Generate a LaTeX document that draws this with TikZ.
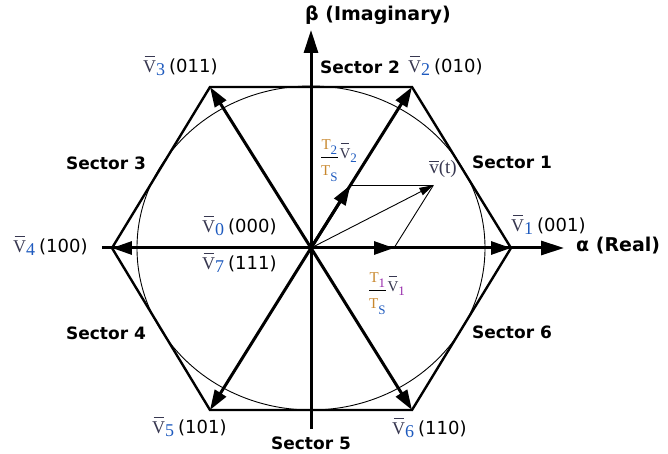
\documentclass[tikz,border=0pt]{standalone}
\usepackage{fontspec}
\setmainfont{DejaVu Sans}
\newfontfamily\serfont{Liberation Serif}
\usepackage{xcolor}
\usetikzlibrary{arrows.meta, calc, positioning}

\definecolor{subblue}{RGB}{30,90,190}
\definecolor{tcol}{RGB}{200,135,45}
\definecolor{subpurple}{RGB}{150,40,170}
\definecolor{vgray}{RGB}{55,55,80}

% letter with a bar above it (#2 = height of the bar)
\newcommand{\barl}[2]{\ooalign{#1\cr\hidewidth\rule[#2]{0.55em}{0.055em}\hidewidth\cr}}
% space vector label: V bar, index, switching state
\newcommand{\vlab}[2]{{\serfont\color{vgray}\barl{V}{0.84em}\raisebox{-0.4ex}{\color{subblue}#1}}\hspace{4pt}(#2)}
% duty fraction Tk/Ts times Vk
\newcommand{\duty}[2]{{\serfont\fontsize{15}{15}\selectfont
  \renewcommand{\arraystretch}{1.7}%
  \begin{tabular}{@{}c@{}}{\color{tcol}T}\raisebox{-0.8ex}{\fontsize{13}{13}\selectfont\color{#2}#1}\\ \hline
  {\color{tcol}T}\raisebox{-1ex}{\fontsize{13}{13}\selectfont\color{subblue}S}\end{tabular}\hspace{2pt}%
  \raisebox{0.3ex}{{\fontsize{15}{15}\selectfont\color{vgray}\barl{V}{0.95em}}\raisebox{-0.6ex}{\fontsize{13}{13}\selectfont\color{#2}#1}}}}

\begin{document}
\begin{tikzpicture}[
    x=1pt, y=1pt,
    hexside/.style={line width=2.4pt, line join=miter},
    axis/.style={line width=3pt, -{Triangle[length=23pt, width=14pt]}},
    vec/.style={line width=3pt, -{Triangle[length=20pt, width=13pt]}},
    thinline/.style={line width=0.9pt},
    thinvec/.style={line width=0.9pt, -{Triangle[length=14pt, width=8pt]}},
    sector/.style={font=\fontsize{17}{20}\selectfont\bfseries, inner sep=1pt},
    vlabel/.style={font=\fontsize{18}{20}\selectfont, inner sep=0pt, anchor=west},
    axlabel/.style={font=\fontsize{19}{22}\selectfont\bfseries, inner sep=0pt, anchor=west}
]
    \useasboundingbox (-311,-206) rectangle (357,248);

    % ================= VERTICES =================
    \coordinate (O)  at (0,0);
    \coordinate (V1) at (200,0);
    \coordinate (V2) at (101,161);
    \coordinate (V3) at (-101,161);
    \coordinate (V4) at (-199,0);
    \coordinate (V5) at (-101,-162);
    \coordinate (V6) at (101,-162);

    % ================= CIRCLE AND HEXAGON =================
    \draw[thinline] (O) ellipse [x radius=174, y radius=162];
    \draw[hexside] (V1) -- (V2) -- (V3) -- (V4) -- (V5) -- (V6) -- cycle;

    % ================= AXES =================
    \coordinate (aL) at (-209,0);
    \coordinate (aR) at (253,0);
    \coordinate (bB) at (0,-181);
    \coordinate (bT) at (0,218);
    \draw[axis] (aL) -- (aR);
    \draw[axis] (bB) -- (bT);
    \node[axlabel] (alpha) at (265,2) {α (Real)};
    \node[axlabel] (beta) at (-6,233) {β (Imaginary)};

    % ================= ACTIVE VECTORS =================
    \draw[vec] (O) -- (V1);
    \draw[vec] (O) -- (V2);
    \draw[vec] (O) -- (V3);
    \draw[vec] (O) -- (V4);
    \draw[vec] (O) -- (V5);
    \draw[vec] (O) -- (V6);

    % ================= REFERENCE VECTOR =================
    \coordinate (T1) at (83,0);
    \coordinate (T2) at ($(O)!0.39!(V2)$);
    \coordinate (vt) at ($(T1)+(T2)$);
    \draw[vec] (O) -- (T1);
    \draw[vec] (O) -- (T2);
    \draw[thinline] (T2) -- (vt);
    \draw[thinline] (T1) -- (vt);
    \draw[thinvec] (O) -- (vt);

    \node[inner sep=0pt] (dT2) at (28,91) {\duty{2}{subblue}};
    \node[inner sep=0pt] (dT1) at (76,-42) {\duty{1}{subpurple}};
    \node (lvt) at (132,79) {\serfont\fontsize{19}{21}\selectfont\color{vgray}\barl{v}{0.62em}(t)};

    % ================= VECTOR LABELS =================
    \node[vlabel] (lV1) at (200,22) {\vlab{1}{001}};
    \node[vlabel] (lV2) at (97,181) {\vlab{2}{010}};
    \node[vlabel] (lV3) at (-168,181) {\vlab{3}{011}};
    \node[vlabel] (lV4) at (-298,1) {\vlab{4}{100}};
    \node[vlabel] (lV5) at (-159,-180) {\vlab{5}{101}};
    \node[vlabel] (lV6) at (81,-181) {\vlab{6}{110}};
    \node[vlabel] (lV0) at (-109,21) {\vlab{0}{000}};
    \node[vlabel] (lV7) at (-109,-16) {\vlab{7}{111}};

    % ================= SECTORS =================
    \node[sector] (s1) at (201,86) {Sector 1};
    \node[sector] (s2) at (49,181) {Sector 2};
    \node[sector] (s3) at (-205,85) {Sector 3};
    \node[sector] (s4) at (-205,-85) {Sector 4};
    \node[sector] (s5) at (0,-195) {Sector 5};
    \node[sector] (s6) at (201,-84) {Sector 6};

\end{tikzpicture}
\end{document}
